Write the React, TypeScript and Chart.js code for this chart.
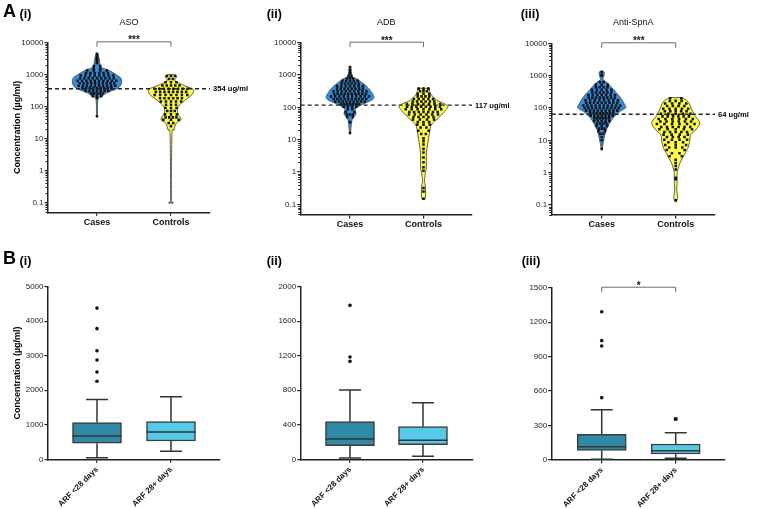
import { useEffect, useRef } from 'react';
import { Chart, registerables } from 'chart.js';

Chart.register(...registerables);

const FONT = '"Liberation Sans", Arial, Helvetica, sans-serif';
Chart.defaults.font.family = FONT;
Chart.defaults.color = '#1a1a1a';

// ---------------- Panel A data (log-scale violins) ----------------
const groupLabels = ['Cases', 'Controls'];
const logTickValues = [0.1, 1, 10, 100, 1000, 10000];

const asoCutoff = 354;
const adbCutoff = 117;
const spnaCutoff = 64;

// violin outlines: value (µg/ml) and relative density (0..1)
const asoCasesProfileValues = [4470, 3090, 1700, 1330, 977, 741, 479, 355, 269, 195, 166, 49];
const asoCasesProfileDensity = [0.04, 0.09, 0.17, 0.5, 0.79, 1.0, 1.0, 0.83, 0.42, 0.17, 0.04, 0.02];
const asoCasesDotValues = [4400, 3800, 3150, 2880, 2530, 2260, 1800, 1500, 1320, 1100, 912, 759, 631, 525, 437, 363, 302, 251, 209, 178, 49];
const asoCasesDotCounts = [1, 1, 1, 1, 1, 1, 2, 2, 4, 6, 8, 9, 10, 10, 10, 9, 7, 5, 3, 1, 1];

const asoControlsProfileValues = [977, 870, 620, 437, 339, 234, 155, 95, 59, 39, 29, 18, 12.3, 0.14, 0.1];
const asoControlsProfileDensity = [0.1, 0.24, 0.17, 0.58, 0.92, 0.88, 0.58, 0.29, 0.29, 0.42, 0.21, 0.12, 0.04, 0.02, 0.1];
const asoControlsDotValues = [891, 708, 562, 447, 355, 282, 224, 178, 141, 112, 89, 71, 56, 45, 38, 30, 24];
const asoControlsDotCounts = [3, 2, 3, 5, 8, 8, 7, 6, 5, 3, 3, 3, 3, 4, 3, 2, 1];

const adbCasesProfileValues = [1740, 891, 759, 490, 347, 214, 170, 135, 105, 83, 62, 47, 32, 16];
const adbCasesProfileDensity = [0.04, 0.08, 0.29, 0.63, 0.83, 1.0, 0.92, 0.63, 0.33, 0.21, 0.25, 0.12, 0.06, 0.02];
const adbCasesDotValues = [1780, 1400, 1185, 1135, 955, 794, 661, 550, 457, 380, 316, 263, 219, 182, 151, 126, 105, 87, 72, 60, 50, 35, 16];
const adbCasesDotCounts = [1, 1, 1, 1, 2, 3, 5, 6, 7, 8, 9, 10, 10, 10, 9, 7, 4, 2, 2, 3, 2, 1, 1];

const adbControlsProfileValues = [389, 275, 170, 112, 74, 47, 29, 16, 6.9, 3.4, 1.32, 0.93, 0.51, 0.36, 0.16, 0.14];
const adbControlsProfileDensity = [0.25, 0.28, 0.54, 1.0, 0.88, 0.62, 0.33, 0.25, 0.17, 0.12, 0.12, 0.08, 0.04, 0.08, 0.08, 0.02];
const adbControlsDotValues = [380, 316, 263, 219, 182, 151, 126, 105, 87, 72, 60, 50, 42, 35, 29, 24, 19, 15, 11, 8.9, 7.1, 5.2, 4, 2.8, 2, 1.4, 1.1, 0.32, 0.25, 0.15];
const adbControlsDotCounts = [3, 3, 3, 4, 5, 6, 7, 8, 7, 7, 6, 5, 4, 3, 3, 2, 2, 2, 1, 1, 1, 1, 1, 1, 1, 1, 1, 1, 1, 1];

const spnaCasesProfileValues = [1380, 1200, 933, 741, 575, 363, 224, 141, 102, 78, 48, 30, 19, 11.5, 8.1, 5.4];
const spnaCasesProfileDensity = [0.06, 0.11, 0.08, 0.06, 0.26, 0.5, 0.75, 0.92, 1.0, 0.75, 0.46, 0.29, 0.17, 0.1, 0.06, 0.02];
const spnaCasesDotValues = [1290, 1040, 990, 630, 525, 437, 363, 302, 251, 209, 174, 145, 120, 100, 83, 69, 58, 48, 40, 33, 28, 23, 19, 16, 12.6, 10, 5.4];
const spnaCasesDotCounts = [1, 1, 1, 2, 3, 4, 5, 6, 7, 8, 8, 9, 10, 10, 9, 8, 7, 6, 5, 4, 3, 3, 2, 2, 1, 1, 1];

const spnaControlsProfileValues = [209, 155, 87, 54, 34, 21, 14.8, 9.1, 5.6, 3.1, 1.95, 1.2, 0.85, 0.47, 0.3, 0.17, 0.126];
const spnaControlsProfileDensity = [0.25, 0.52, 0.67, 0.83, 1.0, 0.83, 0.62, 0.58, 0.5, 0.31, 0.17, 0.08, 0.06, 0.06, 0.04, 0.08, 0.02];
const spnaControlsDotValues = [200, 166, 138, 115, 95, 79, 66, 55, 46, 38, 32, 26, 22, 18, 15, 12.6, 10.5, 8.7, 7.2, 6, 5, 4, 3.2, 2.5, 2, 1.6, 1.26, 0.7, 0.63, 0.14];
const spnaControlsDotCounts = [2, 3, 4, 4, 5, 5, 5, 6, 6, 6, 6, 6, 5, 5, 4, 4, 4, 3, 3, 3, 2, 2, 2, 1, 1, 1, 1, 1, 1, 1];

// ---------------- Panel B data (box plots) ----------------
const arfLabels = ['ARF <28 days', 'ARF 28+ days'];

const asoBoxLow = [45, 230];
const asoBoxQ1 = [465, 530];
const asoBoxMedian = [675, 790];
const asoBoxQ3 = [1065, 1090];
const asoBoxHigh = [1730, 1815];
const asoOutliersEarly = [4380, 3785, 3145, 2875, 2530, 2260];
const asoOutliersLate: number[] = [];

const adbBoxLow = [15, 35];
const adbBoxQ1 = [158, 170];
const adbBoxMedian = [236, 220];
const adbBoxQ3 = [436, 378];
const adbBoxHigh = [803, 656];
const adbOutliersEarly = [1784, 1185, 1135];
const adbOutliersLate: number[] = [];

const spnaBoxLow = [6, 15];
const spnaBoxQ1 = [84, 52];
const spnaBoxMedian = [116, 81];
const spnaBoxQ3 = [223, 139];
const spnaBoxHigh = [438, 238];
const spnaOutliersEarly = [1291, 1039, 992, 543];
const spnaOutliersLate = [357];

// ---------------- styles ----------------
const BLUE = '#2e8fe2';
const YELLOW = '#ffff3c';
const TEAL_DARK = '#2f8aa6';
const TEAL_LIGHT = '#55c9e8';
const INK = '#1a1a1a';
const VIOLIN_HALF = 0.325;

function densityAt(vals: number[], dens: number[], v: number) {
  const lv = Math.log10(v);
  for (let i = 0; i < vals.length - 1; i++) {
    const a = Math.log10(vals[i]);
    const b = Math.log10(vals[i + 1]);
    if (lv <= a && lv >= b) {
      const t = a === b ? 0 : (a - lv) / (a - b);
      return dens[i] + (dens[i + 1] - dens[i]) * t;
    }
  }
  return lv > Math.log10(vals[0]) ? dens[0] : dens[dens.length - 1];
}

// beeswarm-like row layout of the dots inside the violin width
function buildDots(v: any) {
  const pts: any[] = [];
  v.dv.forEach((val: number, r: number) => {
    const n = v.dc[r];
    const hw = densityAt(v.pv, v.pd, val) * VIOLIN_HALF * 0.8;
    for (let i = 0; i < n; i++) {
      let off = 0;
      if (n > 1) {
        off = r % 2 === 0 ? -hw + (2 * hw * i) / (n - 1) : -hw + (2 * hw * (i + 0.5)) / n;
      }
      pts.push({ x: v.x + off, y: val });
    }
  });
  return pts;
}

function spline(ctx: CanvasRenderingContext2D, pts: number[][], move: boolean) {
  if (move) ctx.moveTo(pts[0][0], pts[0][1]);
  else ctx.lineTo(pts[0][0], pts[0][1]);
  for (let i = 0; i < pts.length - 1; i++) {
    const p0 = pts[Math.max(i - 1, 0)];
    const p1 = pts[i];
    const p2 = pts[i + 1];
    const p3 = pts[Math.min(i + 2, pts.length - 1)];
    const c1x = p1[0] + (p2[0] - p0[0]) / 6;
    const c1y = p1[1] + (p2[1] - p0[1]) / 6;
    const c2x = p2[0] - (p3[0] - p1[0]) / 6;
    const c2y = p2[1] - (p3[1] - p1[1]) / 6;
    ctx.bezierCurveTo(c1x, c1y, c2x, c2y, p2[0], p2[1]);
  }
}

function drawPanelLabels(ctx: CanvasRenderingContext2D, p: any) {
  ctx.save();
  ctx.fillStyle = '#000';
  ctx.textAlign = 'left';
  ctx.textBaseline = 'alphabetic';
  if (p.letter) {
    ctx.font = `bold 18px ${FONT}`;
    ctx.fillText(p.letter, 3, p.labelBase - 0.8);
  }
  ctx.font = `bold 12.5px ${FONT}`;
  ctx.fillText(p.sub, p.subX, p.labelBase);
  ctx.restore();
}

function drawBracket(chart: any, y: number, stars: string) {
  const { ctx } = chart;
  const xs = chart.scales.x;
  const x1 = xs.getPixelForValue(1);
  const x2 = xs.getPixelForValue(2);
  ctx.save();
  ctx.strokeStyle = '#6b6b6b';
  ctx.lineWidth = 1;
  ctx.beginPath();
  ctx.moveTo(x1, y + 5);
  ctx.lineTo(x1, y);
  ctx.lineTo(x2, y);
  ctx.lineTo(x2, y + 5);
  ctx.stroke();
  ctx.fillStyle = INK;
  ctx.font = `bold 10px ${FONT}`;
  ctx.textAlign = 'center';
  ctx.textBaseline = 'alphabetic';
  ctx.fillText(stars, (x1 + x2) / 2, y + 1.5);
  ctx.restore();
}

function violinPlugin(p: any) {
  return {
    id: 'violinOverlay',
    beforeDatasetsDraw(chart: any) {
      const { ctx } = chart;
      const xs = chart.scales.x;
      const ys = chart.scales.y;
      for (const v of p.violins) {
        const right = v.pv.map((val: number, i: number) => [xs.getPixelForValue(v.x + v.pd[i] * VIOLIN_HALF), ys.getPixelForValue(val)]);
        const left = v.pv.map((val: number, i: number) => [xs.getPixelForValue(v.x - v.pd[i] * VIOLIN_HALF), ys.getPixelForValue(val)]).reverse();
        ctx.save();
        ctx.beginPath();
        spline(ctx, right, true);
        spline(ctx, left, false);
        ctx.closePath();
        ctx.fillStyle = v.color;
        ctx.fill();
        ctx.lineWidth = 0.9;
        ctx.lineJoin = 'round';
        ctx.strokeStyle = '#4d4d4d';
        ctx.stroke();
        ctx.restore();
      }
    },
    afterDatasetsDraw(chart: any) {
      const { ctx, chartArea } = chart;
      const ys = chart.scales.y;
      const y = ys.getPixelForValue(p.cutoff);
      ctx.save();
      ctx.strokeStyle = '#222';
      ctx.lineWidth = 1.3;
      ctx.setLineDash([4, 3]);
      ctx.beginPath();
      ctx.moveTo(chartArea.left, y);
      ctx.lineTo(chartArea.right, y);
      ctx.stroke();
      ctx.setLineDash([]);
      ctx.fillStyle = '#000';
      ctx.font = `bold 7.6px ${FONT}`;
      ctx.textAlign = 'left';
      ctx.textBaseline = 'middle';
      ctx.fillText(`${p.cutoff} ug/ml`, chartArea.right + 3, y + 0.5);
      ctx.restore();
      drawBracket(chart, chartArea.top - 0.5, '***');
    },
    afterDraw(chart: any) {
      const { ctx, chartArea } = chart;
      const ys = chart.scales.y;
      ctx.save();
      ctx.strokeStyle = '#222';
      ctx.lineWidth = 1;
      ctx.beginPath();
      for (let e = -2; e <= 3; e++) {
        for (let m = 2; m <= 9; m++) {
          const v = m * Math.pow(10, e);
          if (v < ys.min || v > ys.max) continue;
          const y = Math.round(ys.getPixelForValue(v)) + 0.5;
          ctx.moveTo(chartArea.left - 2.5, y);
          ctx.lineTo(chartArea.left, y);
        }
      }
      ctx.stroke();
      ctx.fillStyle = '#111';
      ctx.font = `9px ${FONT}`;
      ctx.textAlign = 'center';
      ctx.textBaseline = 'alphabetic';
      ctx.fillText(p.title, (chartArea.left + chartArea.right) / 2, 25);
      ctx.restore();
      drawPanelLabels(ctx, p);
    },
  };
}

function boxPlugin(p: any) {
  return {
    id: 'boxOverlay',
    beforeDatasetsDraw(chart: any) {
      const { ctx } = chart;
      const xs = chart.scales.x;
      const ys = chart.scales.y;
      ctx.save();
      ctx.strokeStyle = '#333';
      ctx.lineWidth = 1.5;
      for (let i = 0; i < 2; i++) {
        const x = xs.getPixelForValue(i + 1);
        const yl = ys.getPixelForValue(p.low[i]);
        const yh = ys.getPixelForValue(p.high[i]);
        const y1 = ys.getPixelForValue(p.q1[i]);
        const y3 = ys.getPixelForValue(p.q3[i]);
        ctx.beginPath();
        ctx.moveTo(x, y3);
        ctx.lineTo(x, yh);
        ctx.moveTo(x - 11, yh);
        ctx.lineTo(x + 11, yh);
        ctx.moveTo(x, y1);
        ctx.lineTo(x, yl);
        ctx.moveTo(x - 11, yl);
        ctx.lineTo(x + 11, yl);
        ctx.stroke();
      }
      ctx.restore();
    },
    afterDatasetsDraw(chart: any) {
      const { ctx } = chart;
      const xs = chart.scales.x;
      const ys = chart.scales.y;
      ctx.save();
      ctx.strokeStyle = '#333';
      ctx.lineWidth = 1.5;
      for (let i = 0; i < 2; i++) {
        const x = xs.getPixelForValue(i + 1);
        const ym = ys.getPixelForValue(p.median[i]);
        ctx.beginPath();
        ctx.moveTo(x - 24.5, ym);
        ctx.lineTo(x + 24.5, ym);
        ctx.stroke();
      }
      ctx.restore();
      if (p.bracket) drawBracket(chart, chart.chartArea.top - 0.5, p.bracket);
    },
    afterDraw(chart: any) {
      drawPanelLabels(chart.ctx, p);
    },
  };
}

function axisCommon(p: any) {
  return {
    tickGrid: { display: true, drawOnChartArea: false, drawTicks: true, tickLength: 3.5, color: '#222', lineWidth: 1.2 },
    border: { display: true, color: '#222', width: 1.5 },
    yWidth: p.area.l - p.box.x - p.padLeft,
    xHeight: p.box.y + p.box.h - p.area.b,
  };
}

function layoutFor(p: any) {
  return {
    padding: {
      left: p.padLeft,
      top: p.area.t - p.box.y,
      right: p.box.x + p.box.w - p.area.r,
      bottom: 0,
    },
  };
}

function yTitle(show: boolean) {
  return {
    display: show,
    text: 'Concentration (µg/ml)',
    font: { family: FONT, size: 9, weight: 'bold' },
    color: '#000',
    padding: { top: 0, bottom: 0 },
  };
}

function violinConfig(p: any): any {
  const c = axisCommon(p);
  const datasets = p.violins.map((v: any) => ({
    type: 'scatter',
    data: buildDots(v),
    pointStyle: 'rect',
    pointRadius: 1.8,
    pointHoverRadius: 1.8,
    pointBorderWidth: 0,
    backgroundColor: '#111',
    borderColor: '#111',
  }));
  return {
    type: 'scatter',
    data: { datasets },
    options: {
      responsive: false,
      animation: false,
      devicePixelRatio: 1,
      events: [],
      layout: layoutFor(p),
      plugins: { legend: { display: false }, tooltip: { enabled: false } },
      scales: {
        x: {
          type: 'linear',
          bounds: 'data',
          min: p.xMin,
          max: p.xMax,
          offset: false,
          afterBuildTicks: (s: any) => { s.ticks = [{ value: 1 }, { value: 2 }]; },
          afterFit: (s: any) => { s.height = c.xHeight; },
          ticks: {
            callback: (_v: any, i: number) => groupLabels[i],
            font: { family: FONT, size: 9, weight: 'bold' },
            color: '#111',
            padding: 1,
            maxRotation: 0,
            autoSkip: false,
          },
          grid: { ...c.tickGrid, offset: false },
          border: c.border,
        },
        y: {
          type: 'logarithmic',
          bounds: 'data',
          min: p.yMin,
          max: 10000,
          afterBuildTicks: (s: any) => { s.ticks = logTickValues.map((v) => ({ value: v })); },
          afterFit: (s: any) => { s.width = c.yWidth; },
          ticks: {
            callback: (v: any) => String(v),
            font: { family: FONT, size: 8 },
            color: '#222',
            padding: 1,
            autoSkip: false,
          },
          grid: c.tickGrid,
          border: c.border,
          title: yTitle(p.yTitle),
        },
      },
    },
    plugins: [violinPlugin(p)],
  };
}

function boxConfig(p: any): any {
  const c = axisCommon(p);
  return {
    type: 'bar',
    data: {
      datasets: [
        {
          type: 'bar',
          data: p.q1.map((q: number, i: number) => ({ x: i + 1, y: [q, p.q3[i]] })),
          backgroundColor: [TEAL_DARK, TEAL_LIGHT],
          borderColor: '#3b3b3b',
          borderWidth: 1.5,
          borderSkipped: false,
          barThickness: 49,
        },
        {
          type: 'scatter',
          data: p.outEarly.map((v: number) => ({ x: 1, y: v })),
          pointStyle: 'circle',
          pointRadius: 1.8,
          pointBorderWidth: 0,
          backgroundColor: '#111',
          borderColor: '#111',
        },
        {
          type: 'scatter',
          data: p.outLate.map((v: number) => ({ x: 2, y: v })),
          pointStyle: 'rect',
          pointRadius: 2.6,
          pointBorderWidth: 0,
          backgroundColor: '#111',
          borderColor: '#111',
        },
      ],
    },
    options: {
      responsive: false,
      animation: false,
      devicePixelRatio: 1,
      events: [],
      layout: layoutFor(p),
      plugins: { legend: { display: false }, tooltip: { enabled: false } },
      scales: {
        x: {
          type: 'linear',
          bounds: 'data',
          min: p.xMin,
          max: p.xMax,
          offset: false,
          afterBuildTicks: (s: any) => { s.ticks = [{ value: 1 }, { value: 2 }]; },
          afterFit: (s: any) => { s.height = c.xHeight; },
          ticks: {
            callback: (_v: any, i: number) => arfLabels[i],
            font: { family: FONT, size: 8, weight: 'bold' },
            color: '#111',
            padding: 2,
            minRotation: 45,
            maxRotation: 45,
            autoSkip: false,
          },
          grid: { ...c.tickGrid, offset: false },
          border: c.border,
        },
        y: {
          type: 'linear',
          bounds: 'data',
          min: 0,
          max: p.yMax,
          afterBuildTicks: (s: any) => {
            const t = [];
            for (let v = 0; v <= p.yMax; v += p.yStep) t.push({ value: v });
            s.ticks = t;
          },
          afterFit: (s: any) => { s.width = c.yWidth; },
          ticks: {
            callback: (v: any) => String(v),
            font: { family: FONT, size: 8 },
            color: '#222',
            padding: 1,
            autoSkip: false,
          },
          grid: c.tickGrid,
          border: c.border,
          title: yTitle(p.yTitle),
        },
      },
    },
    plugins: [boxPlugin(p)],
  };
}

const violinPanels = [
  {
    key: 'A1', box: { x: 0, y: 0, w: 258, h: 250 }, area: { l: 48, t: 42.3, r: 210, b: 212.3 }, padLeft: 12.6,
    xMin: 0.338, xMax: 2.527, yMin: 0.0487, title: 'ASO', letter: 'A', sub: '(i)', subX: 19.5, labelBase: 17.5,
    cutoff: asoCutoff, yTitle: true,
    violins: [
      { x: 1, color: BLUE, pv: asoCasesProfileValues, pd: asoCasesProfileDensity, dv: asoCasesDotValues, dc: asoCasesDotCounts },
      { x: 2, color: YELLOW, pv: asoControlsProfileValues, pd: asoControlsProfileDensity, dv: asoControlsDotValues, dc: asoControlsDotCounts },
    ],
  },
  {
    key: 'A2', box: { x: 258, y: 0, w: 255, h: 250 }, area: { l: 300.7, t: 42.7, r: 472, b: 215 }, padLeft: 0,
    xMin: 0.329, xMax: 2.66, yMin: 0.0469, title: 'ADB', letter: '', sub: '(ii)', subX: 8.7, labelBase: 17.5,
    cutoff: adbCutoff, yTitle: false,
    violins: [
      { x: 1, color: BLUE, pv: adbCasesProfileValues, pd: adbCasesProfileDensity, dv: adbCasesDotValues, dc: adbCasesDotCounts },
      { x: 2, color: YELLOW, pv: adbControlsProfileValues, pd: adbControlsProfileDensity, dv: adbControlsDotValues, dc: adbControlsDotCounts },
    ],
  },
  {
    key: 'A3', box: { x: 513, y: 0, w: 247, h: 250 }, area: { l: 551.7, t: 43.3, r: 715, b: 215 }, padLeft: 0,
    xMin: 0.324, xMax: 2.531, yMin: 0.0492, title: 'Anti-SpnA', letter: '', sub: '(iii)', subX: 7.7, labelBase: 17.5,
    cutoff: spnaCutoff, yTitle: false,
    violins: [
      { x: 1, color: BLUE, pv: spnaCasesProfileValues, pd: spnaCasesProfileDensity, dv: spnaCasesDotValues, dc: spnaCasesDotCounts },
      { x: 2, color: YELLOW, pv: spnaControlsProfileValues, pd: spnaControlsProfileDensity, dv: spnaControlsDotValues, dc: spnaControlsDotCounts },
    ],
  },
];

const boxPanels = [
  {
    key: 'B1', box: { x: 0, y: 250, w: 258, h: 259 }, area: { l: 48, t: 286.7, r: 220, b: 459.3 }, padLeft: 12.6,
    xMin: 0.338, xMax: 2.662, yMax: 5000, yStep: 1000, letter: 'B', sub: '(i)', subX: 19.5, labelBase: 15.2, yTitle: true,
    low: asoBoxLow, q1: asoBoxQ1, median: asoBoxMedian, q3: asoBoxQ3, high: asoBoxHigh, outEarly: asoOutliersEarly, outLate: asoOutliersLate, bracket: '',
  },
  {
    key: 'B2', box: { x: 258, y: 250, w: 255, h: 259 }, area: { l: 300.7, t: 286.7, r: 473, b: 459.3 }, padLeft: 0,
    xMin: 0.325, xMax: 2.685, yMax: 2000, yStep: 400, letter: '', sub: '(ii)', subX: 8.7, labelBase: 14.5, yTitle: false,
    low: adbBoxLow, q1: adbBoxQ1, median: adbBoxMedian, q3: adbBoxQ3, high: adbBoxHigh, outEarly: adbOutliersEarly, outLate: adbOutliersLate, bracket: '',
  },
  {
    key: 'B3', box: { x: 513, y: 250, w: 247, h: 259 }, area: { l: 551.7, t: 287.7, r: 725, b: 460 }, padLeft: 0,
    xMin: 0.324, xMax: 2.666, yMax: 1500, yStep: 300, letter: '', sub: '(iii)', subX: 8.7, labelBase: 14.5, yTitle: false,
    low: spnaBoxLow, q1: spnaBoxQ1, median: spnaBoxMedian, q3: spnaBoxQ3, high: spnaBoxHigh, outEarly: spnaOutliersEarly, outLate: spnaOutliersLate, bracket: '*',
  },
];

function ChartPanel({ box, build }: { box: any; build: () => any }) {
  const ref = useRef<HTMLCanvasElement | null>(null);
  useEffect(() => {
    if (!ref.current) return;
    const chart = new Chart(ref.current, build());
    return () => chart.destroy();
  }, []);
  return (
    <canvas
      ref={ref}
      width={box.w}
      height={box.h}
      style={{ position: 'absolute', left: box.x, top: box.y, width: box.w, height: box.h, display: 'block' }}
    />
  );
}

export default function App() {
  return (
    <div style={{ position: 'fixed', left: 0, top: 0, width: 760, height: 509, background: '#fff', overflow: 'hidden' }}>
      {violinPanels.map((p) => (
        <ChartPanel key={p.key} box={p.box} build={() => violinConfig(p)} />
      ))}
      {boxPanels.map((p) => (
        <ChartPanel key={p.key} box={p.box} build={() => boxConfig(p)} />
      ))}
    </div>
  );
}
